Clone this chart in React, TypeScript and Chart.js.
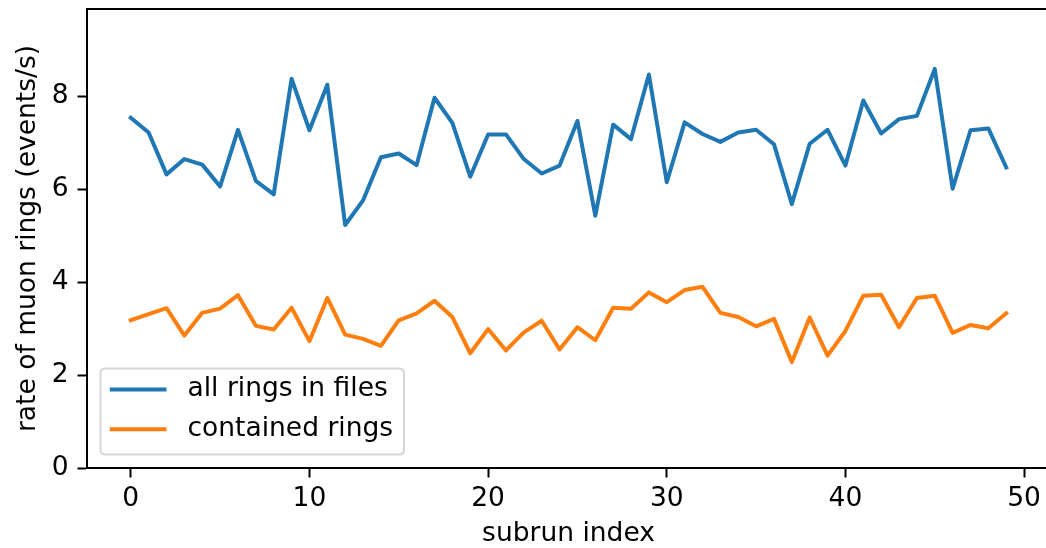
import React, { useEffect, useRef } from "react";
import { Chart, registerables } from "chart.js";

Chart.register(...registerables);

const subrunIndex = [
  0, 1, 2, 3, 4, 5, 6, 7, 8, 9, 10, 11, 12, 13, 14, 15, 16, 17, 18, 19, 20, 21, 22, 23, 24,
  25, 26, 27, 28, 29, 30, 31, 32, 33, 34, 35, 36, 37, 38, 39, 40, 41, 42, 43, 44, 45, 46, 47, 48, 49,
];

const allRings = [
  7.54, 7.22, 6.32, 6.65, 6.53, 6.06, 7.28, 6.18, 5.89, 8.38,
  7.27, 8.25, 5.23, 5.76, 6.69, 6.77, 6.52, 7.97, 7.43, 6.27,
  7.18, 7.18, 6.65, 6.34, 6.51, 7.47, 5.43, 7.39, 7.08, 8.47,
  6.15, 7.44, 7.19, 7.02, 7.22, 7.28, 6.97, 5.68, 6.98, 7.28,
  6.51, 7.91, 7.2, 7.51, 7.58, 8.59, 6.01, 7.27, 7.31, 6.47,
];

const containedRings = [
  3.18, 3.31, 3.44, 2.85, 3.34, 3.43, 3.72, 3.06, 2.98, 3.45,
  2.73, 3.66, 2.87, 2.78, 2.63, 3.18, 3.33, 3.6, 3.25, 2.47,
  2.99, 2.53, 2.92, 3.17, 2.55, 3.03, 2.75, 3.45, 3.43, 3.78,
  3.57, 3.83, 3.9, 3.34, 3.25, 3.05, 3.21, 2.28, 3.24, 2.42,
  2.95, 3.71, 3.73, 3.03, 3.66, 3.71, 2.91, 3.08, 3.01, 3.33,
];

const seriesLabels = ["all rings in files", "contained rings"];
const seriesColors = ["#1f77b4", "#ff7f0e"];
const xTicks = [0, 10, 20, 30, 40, 50];
const yTicks = [0, 2, 4, 6, 8];
const xLimits = [-2.45, 51.45];
const yLimits = [0, 9.88];
const xTitle = "subrun index";
const yTitle = "rate of muon rings (events/s)";

const FONT = "'DejaVu Sans', sans-serif";
const FS = 26.5;

const framePlugin = {
  id: "frameAndLegend",
  afterDatasetsDraw(chart: any) {
    const { ctx, chartArea } = chart;
    ctx.save();
    // top and right spines
    ctx.strokeStyle = "#000";
    ctx.lineWidth = 2;
    ctx.beginPath();
    ctx.moveTo(chartArea.left - 1, chartArea.top);
    ctx.lineTo(chartArea.right + 1, chartArea.top);
    ctx.lineTo(chartArea.right + 1, chartArea.bottom);
    ctx.stroke();

    // legend (lower left)
    const bx = chartArea.left + 13.5;
    const bw = 303.5;
    const bh = 86;
    const by = chartArea.bottom - 13.5 - bh;
    const r = 5;
    ctx.beginPath();
    ctx.moveTo(bx + r, by);
    ctx.lineTo(bx + bw - r, by);
    ctx.quadraticCurveTo(bx + bw, by, bx + bw, by + r);
    ctx.lineTo(bx + bw, by + bh - r);
    ctx.quadraticCurveTo(bx + bw, by + bh, bx + bw - r, by + bh);
    ctx.lineTo(bx + r, by + bh);
    ctx.quadraticCurveTo(bx, by + bh, bx, by + bh - r);
    ctx.lineTo(bx, by + r);
    ctx.quadraticCurveTo(bx, by, bx + r, by);
    ctx.closePath();
    ctx.fillStyle = "rgba(255,255,255,0.8)";
    ctx.fill();
    ctx.strokeStyle = "rgba(204,204,204,0.8)";
    ctx.lineWidth = 2;
    ctx.stroke();

    ctx.font = `${FS}px ${FONT}`;
    ctx.textBaseline = "middle";
    ctx.textAlign = "left";
    chart.data.datasets.forEach((ds: any, i: number) => {
      const cy = by + 21 + i * 39.7;
      ctx.strokeStyle = ds.borderColor;
      ctx.lineWidth = 4;
      ctx.lineCap = "butt";
      ctx.beginPath();
      ctx.moveTo(bx + 9.3, cy);
      ctx.lineTo(bx + 66, cy);
      ctx.stroke();
      ctx.fillStyle = "#000";
      ctx.fillText(ds.label, bx + 87, cy);
    });
    ctx.restore();
  },
};

export default function App() {
  const ref = useRef<HTMLCanvasElement | null>(null);

  useEffect(() => {
    if (!ref.current) return;
    const series = [allRings, containedRings];
    const chart = new Chart(ref.current, {
      type: "line",
      data: {
        datasets: series.map((vals, k) => ({
          label: seriesLabels[k],
          data: subrunIndex.map((x, i) => ({ x, y: vals[i] })),
          borderColor: seriesColors[k],
          backgroundColor: seriesColors[k],
          borderWidth: 4,
          pointRadius: 0,
          tension: 0,
          fill: false,
          borderJoinStyle: "round" as const,
          borderCapStyle: "square" as const,
        })),
      },
      options: {
        animation: false,
        responsive: false,
        devicePixelRatio: 1,
        layout: { padding: { top: 9, right: 10, left: 0, bottom: 0 } },
        plugins: {
          legend: { display: false },
          tooltip: { enabled: false },
        },
        scales: {
          x: {
            type: "linear",
            min: xLimits[0],
            max: xLimits[1],
            afterBuildTicks: (s: any) => {
              s.ticks = xTicks.map((v) => ({ value: v }));
            },
            afterFit: (s: any) => {
              s.height = 80;
              s.paddingLeft = 0;
              s.paddingRight = 0;
              s.paddingTop = 0;
              s.paddingBottom = 0;
            },
            ticks: {
              color: "#000",
              font: { family: FONT, size: FS },
              padding: 6,
              maxRotation: 0,
              autoSkip: false,
              callback: (v: any) => String(v),
            },
            grid: {
              drawOnChartArea: false,
              drawTicks: true,
              tickLength: 9.5,
              tickWidth: 2,
              tickColor: "#000",
            },
            border: { display: true, color: "#000", width: 2 },
            title: {
              display: true,
              text: xTitle,
              color: "#000",
              font: { family: FONT, size: FS },
              padding: { top: 0, bottom: -2 },
            },
          },
          y: {
            type: "linear",
            min: yLimits[0],
            max: yLimits[1],
            afterBuildTicks: (s: any) => {
              s.ticks = yTicks.map((v) => ({ value: v }));
            },
            afterFit: (s: any) => {
              s.width = 87;
              s.paddingLeft = 0;
              s.paddingRight = 0;
              s.paddingTop = 0;
              s.paddingBottom = 0;
            },
            ticks: {
              color: "#000",
              font: { family: FONT, size: FS },
              padding: 9,
              autoSkip: false,
              callback: (v: any) => String(v),
            },
            grid: {
              drawOnChartArea: false,
              drawTicks: true,
              tickLength: 9.5,
              tickWidth: 2,
              tickColor: "#000",
            },
            border: { display: true, color: "#000", width: 2 },
            title: {
              display: true,
              text: yTitle,
              color: "#000",
              font: { family: FONT, size: FS },
              padding: { top: 12, bottom: 0 },
            },
          },
        },
      },
      plugins: [framePlugin],
    });
    return () => chart.destroy();
  }, []);

  return (
    <div
      style={{
        position: "fixed",
        left: 0,
        top: 0,
        width: 1060,
        height: 548,
        background: "#fff",
      }}
    >
      <canvas ref={ref} width={1060} height={548} style={{ display: "block" }} />
    </div>
  );
}
